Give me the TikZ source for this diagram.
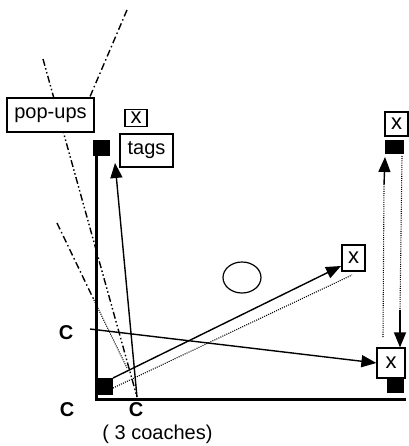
\documentclass[tikz,border=0pt]{standalone}
\usepackage{fontspec}
\setmainfont{Liberation Sans}
\usetikzlibrary{arrows.meta}
\begin{document}
\begin{tikzpicture}[x=1pt,y=-1pt,
  box/.style={draw,line width=1.2pt,fill=white,inner sep=0pt,font=\fontsize{20}{22}\selectfont},
  xbox/.style={box,font=\fontsize{22}{24}\selectfont},
  sq/.style={fill=black,draw=none},
  lbl/.style={font=\fontsize{20}{22}\selectfont\bfseries},
  arr/.style={line width=1.4pt,-{Triangle[length=15pt,width=12pt]}},
  dotl/.style={line width=1.1pt,dash pattern=on 1pt off 1.2pt},
  dashdot/.style={line width=1.4pt,dash pattern=on 7pt off 3pt on 1.5pt off 3pt},
  dashdotdot/.style={line width=1.4pt,dash pattern=on 7pt off 2.5pt on 1.5pt off 2.5pt on 1.5pt off 2.5pt}]
\useasboundingbox (0,0) rectangle (408,446);
% dash-dot lines (behind boxes)
\coordinate (l1a) at (127,10);
\coordinate (l1b) at (89,99);
\draw[dashdot] (l1a) -- (l1b);
\coordinate (l2a) at (43,59);
\coordinate (l2b) at (137,397);
\draw[dashdotdot] (l2a) -- (l2b);
\coordinate (l3a) at (57,223);
\coordinate (l3m) at (93,298);
\coordinate (l3b) at (127,368);
\draw[dashdot] (l3a) -- (l3m);
\draw[dotl] (l3m) -- (l3b);
% axes
\coordinate (ax0) at (96,156);
\coordinate (axc) at (96,399);
\coordinate (ax1) at (406,399);
\draw[line width=3pt] (ax0) -- (axc) -- (ax1);
% squares
\fill[sq] (93,140) rectangle (110,156) coordinate (sq1);
\fill[sq] (97,378) rectangle (113,395) coordinate (sq2);
\fill[sq] (385,140) rectangle (404,154) coordinate (sq3);
\fill[sq] (387,378) rectangle (404,393) coordinate (sq4);
% boxes
\node[box,minimum width=87pt,minimum height=34pt] (popups) at (50.5,115) {pop-ups};
\node[xbox,minimum width=22pt,minimum height=17pt] (xtop) at (136,118) {x};
\node[box,minimum width=53pt,minimum height=33pt] (tags) at (146.5,150.5) {tags};
\node[xbox,minimum width=23pt,minimum height=24pt] (xtr) at (396.5,124) {x};
\node[xbox,minimum width=23pt,minimum height=26pt] (xmid) at (353.5,258) {x};
\node[xbox,minimum width=28pt,minimum height=30pt] (xbr) at (391,363) {x};
% ellipse
\draw[line width=1.2pt] (242,277.5) ellipse [x radius=19, y radius=15.5];
% labels
\node[lbl] (cleft) at (66,333) {C};
\node[lbl] (cbl) at (67,410) {C};
\node[lbl] (cbot) at (136,410) {C};
\node[font=\fontsize{20}{22}\selectfont] (coaches) at (157.5,434) {( 3 coaches)};
% arrows
\coordinate (a1s) at (137,397);
\coordinate (a1e) at (115,163);
\draw[arr] (a1s) -- (a1e);
\coordinate (a2s) at (90,329);
\draw[arr] (a2s) -- (xbr.west);
\coordinate (a3s) at (113,378);
\coordinate (a3e) at (341,266);
\draw[arr] (a3s) -- (a3e);
\coordinate (d1s) at (113,388);
\coordinate (d1e) at (352,275);
\draw[dotl] (d1s) -- (d1e);
% right side
\coordinate (r1a) at (402,156);
\coordinate (r1b) at (400,310);
\draw[dotl] (r1a) -- (r1b);
\draw[arr] (r1b) -- (xbr.north -| r1b);
\coordinate (r2a) at (383,337);
\coordinate (r2b) at (384,185);
\coordinate (r2c) at (385,157);
\draw[dotl] (r2a) -- (r2b);
\draw[arr] (r2b) -- (r2c);
\end{tikzpicture}
\end{document}
